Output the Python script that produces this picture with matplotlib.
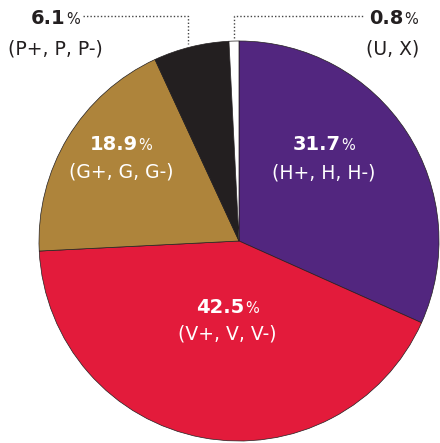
import matplotlib.pyplot as plt

# ==============================
# Data
# ==============================
shares = [31.7, 42.5, 18.9, 6.1, 0.8]
groups = ["(H+, H, H-)", "(V+, V, V-)", "(G+, G, G-)", "(P+, P, P-)", "(U, X)"]
colors = ["#52267f", "#e31b3b", "#ae843b", "#231f20", "#ffffff"]

W, H = 440, 443
plt.rcParams["font.family"] = ["DejaVu Sans"]

fig = plt.figure(figsize=(W / 100, H / 100), dpi=100)
ax = fig.add_axes([0, 0, 1, 1])

# pixel coords -> data coords (y flipped)
def py(y):
    return H - y

cx, cy, r = 239, 241, 200
ax.pie(shares, colors=colors, startangle=90, counterclock=False,
       center=(cx, py(cy)), radius=r,
       wedgeprops=dict(edgecolor="#231f20", linewidth=0.5))
ax.set_xlim(0, W)
ax.set_ylim(0, H)
ax.set_aspect("equal")
ax.axis("off")

renderer = fig.canvas.get_renderer()


def pct_label(x, y, value, color):
    t1 = ax.text(0, py(y), f"{value:.1f}", ha="left", va="baseline",
                 fontsize=14, fontweight="bold", color=color)
    t2 = ax.text(0, py(y), "%", ha="left", va="baseline",
                 fontsize=10.5, color=color)
    w1 = t1.get_window_extent(renderer).width
    w2 = t2.get_window_extent(renderer).width
    left = x - (w1 + w2) / 2
    t1.set_x(left)
    t2.set_x(left + w1 + 0.5)


def group_label(x, y, text, color):
    ax.text(x, py(y), text, ha="center", va="center", fontsize=13.5,
            fontweight="normal", color=color)


# label positions in pixels (number baseline y, group centre y)
label_pos = [(324, 150, 173), (227, 313, 334), (121, 150, 172),
             (55, 24, 49), (393, 24, 49)]
text_colors = ["white", "white", "white", "#231f20", "#231f20"]

for (x, yb, yg), val, grp, tc in zip(label_pos, shares, groups, text_colors):
    pct_label(x, yb, val, tc)
    group_label(x, yg, grp, tc)

# dotted leader lines for the small slices
line_style = dict(color="#444444", linewidth=1, linestyle=(0, (1, 1.5)))
ax.plot([83, 188, 188], [py(16), py(16), py(44)], **line_style)
ax.plot([234, 234, 364], [py(38), py(16), py(16)], **line_style)

fig.savefig("out.png", dpi=100)
